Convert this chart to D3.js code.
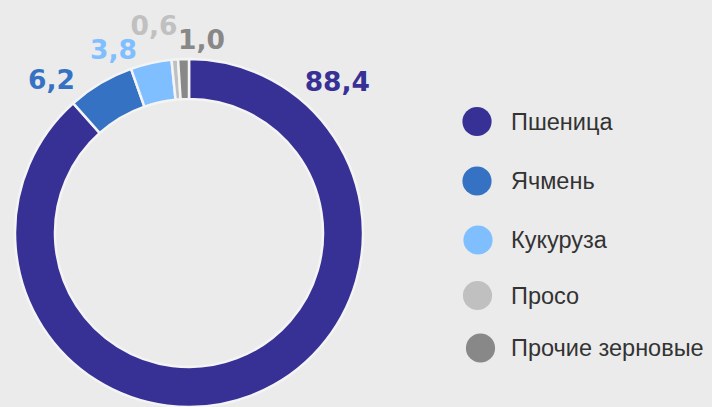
<!DOCTYPE html>
<html><head><meta charset="utf-8">
<script src="https://cdn.jsdelivr.net/npm/d3@7"></script>
<style>
html,body{margin:0;padding:0;background:#ebebeb;}
svg{display:block;}
</style></head>
<body>
<svg id="c" width="712" height="407"></svg>
<script>
const categories = ["Пшеница","Ячмень","Кукуруза","Просо","Прочие зерновые"];
const values = [88.4, 6.2, 3.8, 0.6, 1.0];
const valueLabels = ["88,4","6,2","3,8","0,6","1,0"];
const colors = ["#373196","#3672c4","#80bfff","#c0c0c0","#888888"];

// layout: label placement (angle in degrees from top, clockwise; radius in px)
const labelAngles = [44.4, -41.9, -22.4, -9.6, 3.7];
const labelRadii = [212, 206, 198, 210, 194];
// layout: legend rows
const legendY = [121.5, 181, 240, 295.5, 348];
const legendX = [477, 477, 478, 477.5, 480.5];

const svg = d3.select("#c");
const cx = 189, cy = 233, outerR = 174, innerR = 134;
const g = svg.append("g").attr("transform", `translate(${cx},${cy})`);

const pie = d3.pie().sort(null).value(d => d)(values);
const arc = d3.arc().innerRadius(innerR).outerRadius(outerR);

g.selectAll("path").data(pie).join("path")
  .attr("d", arc)
  .attr("fill", (d,i) => colors[i])
  .attr("stroke", "#f4f4f4")
  .attr("stroke-width", 2.5)
  .attr("stroke-linejoin", "miter");

g.selectAll("text.lbl").data(pie).join("text")
  .attr("class","lbl")
  .attr("x", (d,i) => labelRadii[i]*Math.sin(labelAngles[i]*Math.PI/180))
  .attr("y", (d,i) => -labelRadii[i]*Math.cos(labelAngles[i]*Math.PI/180))
  .attr("text-anchor","middle")
  .attr("dominant-baseline","central")
  .attr("font-family","'DejaVu Sans', Verdana, sans-serif")
  .attr("font-weight","bold")
  .attr("font-size",26.5)
  .attr("fill",(d,i)=>colors[i])
  .text((d,i)=>valueLabels[i]);

const leg = svg.append("g");
const items = leg.selectAll("g").data(categories).join("g")
  .attr("transform", (d,i) => `translate(0,${legendY[i]})`);
items.append("circle").attr("cx", (d,i)=>legendX[i]).attr("cy", 0).attr("r", 14.6)
  .attr("fill", (d,i)=>colors[i]);
items.append("text").attr("x", 511).attr("y", 0)
  .attr("dominant-baseline","central")
  .attr("font-family","Liberation Sans, Arial, sans-serif")
  .attr("font-size", 23.5)
  .attr("fill","#333333")
  .text(d=>d);
</script>
</body></html>
